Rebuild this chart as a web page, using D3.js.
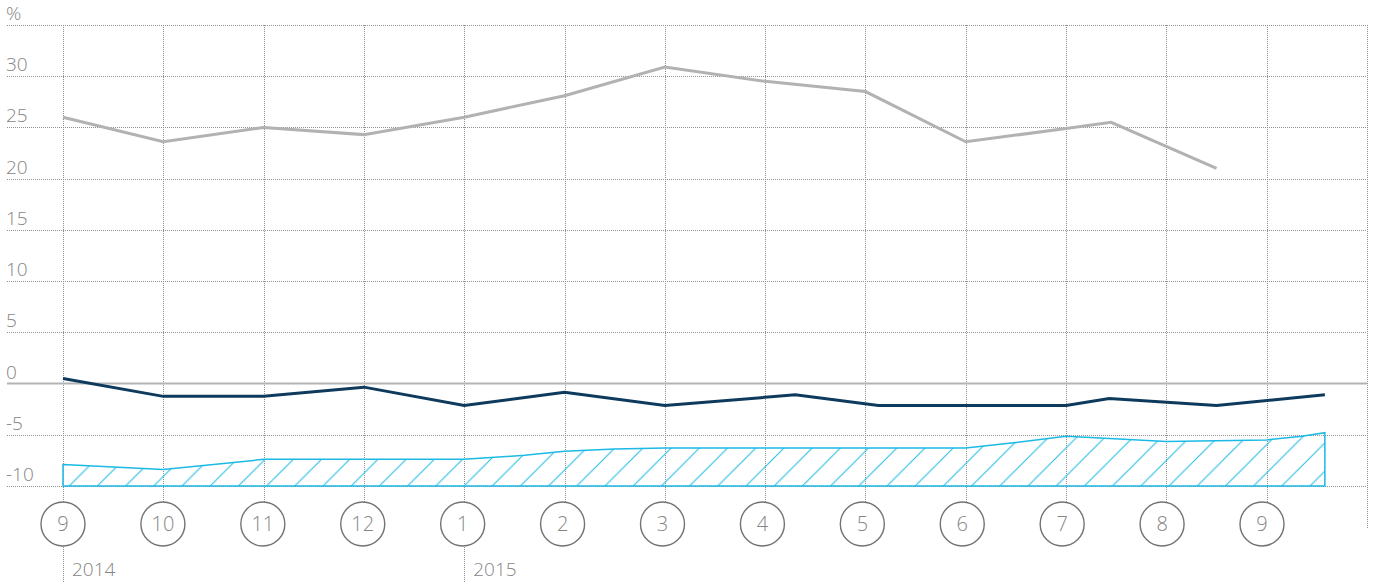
<!DOCTYPE html>
<html>
<head>
<meta charset="utf-8">
<script src="https://cdn.jsdelivr.net/npm/d3@7"></script>
<style>
  html, body { margin: 0; padding: 0; background: #fff; }
  svg { display: block; }
  text { font-family: "Open Sans", sans-serif; font-weight: 300; fill: #858585; }
</style>
</head>
<body>
<div id="chart"></div>
<script>
// month markers along the bottom (index 0 = Sep 2014)
const monthLabels = ["9", "10", "11", "12", "1", "2", "3", "4", "5", "6", "7", "8", "9"];
const yearIdx = [0, 4];
const yearLabels = ["2014", "2015"];
const yTicks = [-10, -5, 0, 5, 10, 15, 20, 25, 30];
const unitLabel = "%";

// grey series
const greyX = [0, 1, 2, 3, 4, 5, 6, 7, 8, 9, 10, 10.45, 11.5];
const greyY = [26.0, 23.6, 25.0, 24.3, 26.0, 28.1, 30.9, 29.5, 28.5, 23.6, 24.9, 25.5, 21.0];

// dark blue series
const darkX = [0, 1, 2, 3, 4, 5, 6, 7.3, 8.13, 9, 10, 10.43, 11.5, 12.58];
const darkY = [0.5, -1.25, -1.25, -0.35, -2.15, -0.85, -2.15, -1.1, -2.15, -2.15, -2.15, -1.45, -2.15, -1.1];

// hatched band (top edge, floor at -10)
const areaX = [0, 1, 2, 3, 4, 4.6, 5, 5.5, 6, 7, 8, 9, 9.5, 10, 10.1, 11, 12, 12.35, 12.58];
const areaY = [-7.9, -8.4, -7.4, -7.4, -7.4, -7.0, -6.6, -6.4, -6.3, -6.3, -6.3, -6.3, -5.75, -5.15, -5.2, -5.65, -5.5, -5.15, -4.8];

const width = 1375, height = 582;
const gridColor = "#8f8f8f";
const cyan = "#1bb9e4";

const svg = d3.select("#chart").append("svg")
  .attr("width", width)
  .attr("height", height);

const x = d3.scaleLinear().domain([0, 13]).range([63, 1367]);
const xMarker = d3.scaleLinear().domain([0, 12]).range([63, 1262]);
const y = d3.scaleLinear().domain([-10, 35]).range([486, 25]);

// hatch pattern
const hatch = 28.2;
const pat = svg.append("defs").append("pattern")
  .attr("id", "hatch")
  .attr("patternUnits", "userSpaceOnUse")
  .attr("x", 19.4)
  .attr("width", hatch)
  .attr("height", hatch);
pat.append("path")
  .attr("d", `M0,${hatch} L${hatch},0 M-2,2 L2,-2 M${hatch - 2},${hatch + 2} L${hatch + 2},${hatch - 2}`)
  .attr("stroke", cyan)
  .attr("stroke-width", 1);

// horizontal grid
const hLines = yTicks.filter(d => d !== 0).concat([35]);
svg.append("g").selectAll("line")
  .data(hLines)
  .enter().append("line")
  .attr("x1", 7).attr("x2", x(13))
  .attr("y1", d => Math.round(y(d)) + 0.5)
  .attr("y2", d => Math.round(y(d)) + 0.5)
  .attr("stroke", gridColor)
  .attr("stroke-width", 1)
  .attr("stroke-dasharray", "1,1");

// vertical grid
const vIdx = d3.range(0, 14);
svg.append("g").selectAll("line")
  .data(vIdx)
  .enter().append("line")
  .attr("x1", d => Math.round(x(d)) + 0.5)
  .attr("x2", d => Math.round(x(d)) + 0.5)
  .attr("y1", y(35))
  .attr("y2", d => yearIdx.includes(d) ? height : (d === 13 ? 528 : 502))
  .attr("stroke", gridColor)
  .attr("stroke-width", 1)
  .attr("stroke-dasharray", "1,1");

// zero line
svg.append("line")
  .attr("x1", 7).attr("x2", x(13))
  .attr("y1", y(0)).attr("y2", y(0))
  .attr("stroke", "#b3b3b3")
  .attr("stroke-width", 2);

// y labels
svg.append("g").selectAll("text")
  .data(yTicks)
  .enter().append("text")
  .attr("x", 6)
  .attr("y", d => y(d) - 5)
  .attr("font-size", 19)
  .text(d => d);
svg.append("text")
  .attr("x", 6)
  .attr("y", y(35) - 5)
  .attr("font-size", 19)
  .text(unitLabel);

// hatched area
const areaData = areaX.map((v, i) => [v, areaY[i]]);
const area = d3.area()
  .x(d => x(d[0]))
  .y0(y(-10))
  .y1(d => y(d[1]));
svg.append("path")
  .datum(areaData)
  .attr("d", area)
  .attr("fill", "url(#hatch)")
  .attr("stroke", cyan)
  .attr("stroke-width", 1.5);

const line = d3.line()
  .x(d => x(d[0]))
  .y(d => y(d[1]));

// grey line
svg.append("path")
  .datum(greyX.map((v, i) => [v, greyY[i]]))
  .attr("d", line)
  .attr("fill", "none")
  .attr("stroke", "#b2b2b2")
  .attr("stroke-width", 3);

// dark line
svg.append("path")
  .datum(darkX.map((v, i) => [v, darkY[i]]))
  .attr("d", line)
  .attr("fill", "none")
  .attr("stroke", "#0d3a5d")
  .attr("stroke-width", 3);

// month circles
const markers = svg.append("g").selectAll("g")
  .data(monthLabels)
  .enter().append("g")
  .attr("transform", (d, i) => `translate(${xMarker(i)},524)`);
markers.append("circle")
  .attr("r", 22)
  .attr("fill", "#fff")
  .attr("stroke", "#737373")
  .attr("stroke-width", 1.4);
markers.append("text")
  .attr("text-anchor", "middle")
  .attr("dy", "0.36em")
  .attr("font-size", 20)
  .text(d => d);

// year labels
svg.append("g").selectAll("text")
  .data(yearLabels)
  .enter().append("text")
  .attr("x", (d, i) => x(yearIdx[i]) + 9)
  .attr("y", 576)
  .attr("font-size", 19)
  .text(d => d);
</script>
</body>
</html>
